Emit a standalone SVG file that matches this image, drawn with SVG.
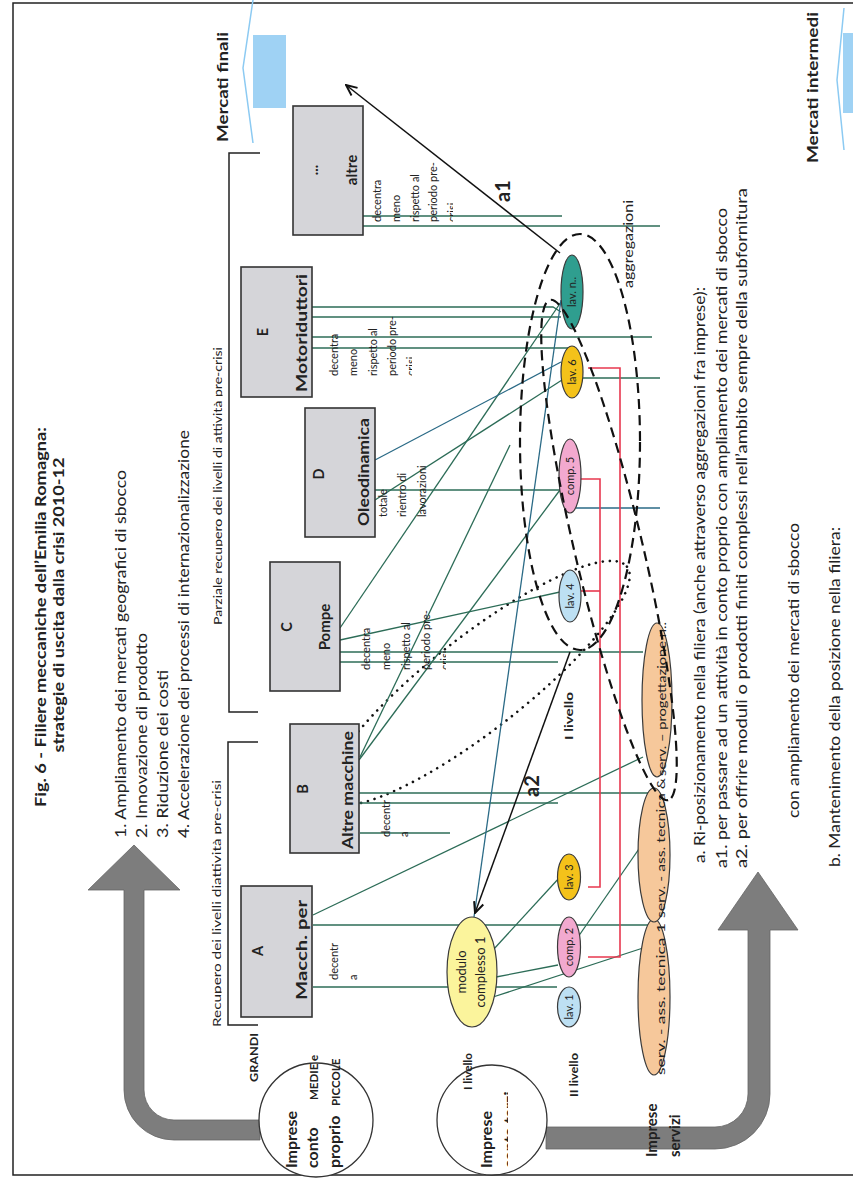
<svg xmlns="http://www.w3.org/2000/svg" width="853" height="1182" viewBox="0 0 853 1182">
<defs>
<style>
.t{font-family:Lato,"Liberation Sans","DejaVu Sans",sans-serif;fill:#222}
.b{font-weight:bold}
.f11{font-size:11px}
.f12{font-size:12px}
.f14{font-size:14.5px}
.f15{font-size:15px}
.f16{font-size:16px}
.box{fill:#d5d5d9;stroke:#333;stroke-width:1.6}
.ln{fill:none;stroke:#2c6c57;stroke-width:1.3}
.lb{fill:none;stroke:#2a6a86;stroke-width:1.3}
.red{fill:none;stroke:#e8384f;stroke-width:1.6}
.blk{fill:none;stroke:#111;stroke-width:1.5}
.dash{fill:none;stroke:#111;stroke-width:2.2;stroke-dasharray:10 6}
.dot{fill:none;stroke:#111;stroke-width:2.6;stroke-dasharray:0 7;stroke-linecap:round}
.nd{stroke:#3a3a3a;stroke-width:1.2}
.grey{fill:#7d7d7d;stroke:#666;stroke-width:0.8}
.frame{fill:none;stroke:#222;stroke-width:1.5}
</style>
<marker id="ah" viewBox="0 0 12 12" refX="11" refY="6" markerWidth="13" markerHeight="13" markerUnits="userSpaceOnUse" orient="auto">
<path d="M1,1.5 L11,6 L1,10.5" fill="none" stroke="#111" stroke-width="1.8"/>
</marker>
<clipPath id="cpRec"><rect x="0" y="0" width="221.5" height="1182"/></clipPath>
<clipPath id="cpPar"><rect x="0" y="0" width="222.5" height="1182"/></clipPath>
<clipPath id="cpAltre"><rect x="360" y="100" width="93" height="140"/></clipPath>
<clipPath id="cpE"><rect x="315" y="250" width="97" height="140"/></clipPath>
<clipPath id="cpC"><rect x="345" y="540" width="101" height="140"/></clipPath>
<clipPath id="cpTerzi"><rect x="430" y="1050" width="78" height="132"/></clipPath>
</defs>

<rect width="853" height="1182" fill="#fff"/>
<path class="frame" d="M853,3 H13 V1175 H853"/>

<!-- title and strategy list -->
<g id="title">
<text class="t b f16" x="46" y="617" text-anchor="middle" textLength="380" lengthAdjust="spacingAndGlyphs" transform="rotate(-90 46 617)">Fig. 6 - Filiere meccaniche dell’Emilia Romagna:</text>
<text class="t b f16" x="64" y="605" text-anchor="middle" textLength="295" lengthAdjust="spacingAndGlyphs" transform="rotate(-90 64 605)">strategie di uscita dalla crisi 2010-12</text>
</g>
<g id="strategies">
<text class="t f15" x="126" y="838" textLength="368" lengthAdjust="spacingAndGlyphs" transform="rotate(-90 126 838)">1. Ampliamento dei mercati geografici di  sbocco</text>
<text class="t f15" x="147" y="838" textLength="205" lengthAdjust="spacingAndGlyphs" transform="rotate(-90 147 838)">2. Innovazione di  prodotto</text>
<text class="t f15" x="168" y="838" textLength="168" lengthAdjust="spacingAndGlyphs" transform="rotate(-90 168 838)">3. Riduzione dei costi</text>
<text class="t f15" x="189" y="838" textLength="408" lengthAdjust="spacingAndGlyphs" transform="rotate(-90 189 838)">4. Accelerazione dei processi di  internazionalizzazione</text>
</g>

<!-- brackets with their captions -->
<g id="brackets">
<path class="frame" d="M258,742 H228 V1025 H258"/>
<path class="frame" d="M260,153 H229 V712 H258"/>
<g clip-path="url(#cpRec)"><text class="t f11" x="221" y="1027" textLength="247" lengthAdjust="spacingAndGlyphs" transform="rotate(-90 221 1027)">Recupero dei livelli diattività pre-crisi</text></g>
<g clip-path="url(#cpPar)"><text class="t f11" x="222" y="625" textLength="278" lengthAdjust="spacingAndGlyphs" transform="rotate(-90 222 625)">Parziale recupero dei livelli di attività pre-crisi</text></g>
</g>

<!-- market arrows -->
<g id="mercati-finali">
<rect x="253" y="35" width="33" height="73" fill="#9fd2f4"/>
<polyline points="253,0 243,68 253,143" fill="none" stroke="#8ccaf2" stroke-width="1.5"/>
<text class="t b f15" x="228" y="142" textLength="110" lengthAdjust="spacingAndGlyphs" transform="rotate(-90 228 142)">Mercati finali</text>
</g>
<g id="mercati-intermedi">
<rect x="843" y="33" width="12" height="80" fill="#9fd2f4"/>
<polyline points="844,8 837,80 844,150" fill="none" stroke="#8ccaf2" stroke-width="1.5"/>
<text class="t b f15" x="818" y="163" textLength="151" lengthAdjust="spacingAndGlyphs" transform="rotate(-90 818 163)">Mercati intermedi</text>
</g>

<!-- big grey flow arrows -->
<g id="flow-arrows">
<path class="grey" d="M260,1140 L174,1140 A50,50 0 0 1 124,1090 L124,890 L88,890 L134,845 L180,890 L144,890 L144,1090 A30,30 0 0 0 174,1120 L260,1120 Z"/>
<path class="grey" d="M546,1149 L715,1149 A55,55 0 0 0 770,1094 L770,930 L798,930 L758,872 L718,930 L748,930 L748,1094 A33,33 0 0 1 715,1127 L546,1127 Z"/>
</g>

<!-- dotted grouping -->
<ellipse class="dot" cx="478" cy="683" rx="189" ry="47" transform="rotate(-38 478 683)"/>

<!-- connectors -->
<g id="connectors">
<path class="ln" d="M313,915 L643,757"/>
<path class="ln" d="M313,925 L650,925"/>
<path class="ln" d="M313,987 L557,987"/>
<path class="ln" d="M359,760 L560,490"/>
<path class="ln" d="M359,793 L650,793"/>
<path class="ln" d="M359,803 L558,803"/>
<path class="ln" d="M360,833 L450,833"/>
<path class="ln" d="M360,757 L510,445"/>
<path class="ln" d="M340,652 L643,652"/>
<path class="ln" d="M340,662 L558,662"/>
<path class="ln" d="M340,640 L560,592"/>
<path class="ln" d="M340,628 L561,302"/>
<path class="lb" d="M375,460 L561,362"/>
<path class="ln" d="M375,500 L562,380"/>
<path class="ln" d="M375,490 L560,490"/>
<path class="ln" d="M312,307 L553,307 L561,312"/>
<path class="ln" d="M312,317 L561,317"/>
<path class="ln" d="M312,337 L652,337"/>
<path class="ln" d="M312,348 L575,348"/>
<path class="ln" d="M363,216 L562,216"/>
<path class="ln" d="M363,226 L660,226"/>
<path class="ln" d="M583,378 L660,378"/>
<path class="lb" d="M576,508 L660,508"/>
<path class="lb" d="M561,300 L474,917"/>
<path class="ln" d="M493,950 L560,877"/>
<path class="ln" d="M496,977 L558,965"/>
<path class="ln" d="M493,997 L643,948"/>
<path class="ln" d="M578,937 L650,833"/>
<path class="red" d="M580,479 H600 V887 H588"/>
<path class="red" d="M588,368 H620 V957 H588"/>
<path class="red" d="M581,591 H600"/>
<path class="blk" d="M560,253 L346,85" marker-end="url(#ah)"/>
<path class="blk" stroke-width="2.6" d="M570,652 L475,913" marker-end="url(#ah)"/>
</g>

<!-- large firms -->
<g id="box-altre">
<rect class="box" x="293" y="106" width="70" height="129"/>
<text class="t b f14" x="318" y="170" text-anchor="middle" transform="rotate(-90 318 170)">...</text>
<text class="t b f15" x="357" y="170" text-anchor="middle" transform="rotate(-90 357 170)">altre</text>
</g>
<g id="box-e">
<rect class="box" x="241" y="267" width="71" height="130"/>
<text class="t b f14" x="268" y="332" text-anchor="middle" transform="rotate(-90 268 332)">E</text>
<text class="t b f15" x="307" y="333" text-anchor="middle" textLength="118" lengthAdjust="spacingAndGlyphs" transform="rotate(-90 307 333)">Motoriduttori</text>
</g>
<g id="box-d">
<rect class="box" x="305" y="408" width="70" height="129"/>
<text class="t b f14" x="324" y="474" text-anchor="middle" transform="rotate(-90 324 474)">D</text>
<text class="t b f15" x="369" y="472" text-anchor="middle" textLength="108" lengthAdjust="spacingAndGlyphs" transform="rotate(-90 369 472)">Oleodinamica</text>
</g>
<g id="box-c">
<rect class="box" x="270" y="562" width="70" height="129"/>
<text class="t b f14" x="292" y="627" text-anchor="middle" transform="rotate(-90 292 627)">C</text>
<text class="t b f15" x="330" y="627" text-anchor="middle" transform="rotate(-90 330 627)">Pompe</text>
</g>
<g id="box-b">
<rect class="box" x="290" y="724" width="69" height="129"/>
<text class="t b f14" x="308" y="789" text-anchor="middle" transform="rotate(-90 308 789)">B</text>
<text class="t b f15" x="353" y="790" text-anchor="middle" textLength="118" lengthAdjust="spacingAndGlyphs" transform="rotate(-90 353 790)">Altre macchine</text>
</g>
<g id="box-a">
<rect class="box" x="241" y="886" width="71" height="131"/>
<text class="t b f14" x="263" y="951" text-anchor="middle" transform="rotate(-90 263 951)">A</text>
<text class="t b f15" x="307" y="950" text-anchor="middle" textLength="100" lengthAdjust="spacingAndGlyphs" transform="rotate(-90 307 950)">Macch. per</text>
</g>

<!-- decentralisation notes -->
<g id="note-altre" clip-path="url(#cpAltre)">
<text class="t f11" x="381" y="222" transform="rotate(-90 381 222)">decentra</text>
<text class="t f11" x="400" y="222" transform="rotate(-90 400 222)">meno</text>
<text class="t f11" x="419" y="222" transform="rotate(-90 419 222)">rispetto al</text>
<text class="t f11" x="437" y="222" transform="rotate(-90 437 222)">periodo pre-</text>
<text class="t f11" x="456" y="222" transform="rotate(-90 456 222)">crisi</text>
</g>
<g id="note-e" clip-path="url(#cpE)">
<text class="t f11" x="338" y="376" transform="rotate(-90 338 376)">decentra</text>
<text class="t f11" x="357" y="376" transform="rotate(-90 357 376)">meno</text>
<text class="t f11" x="377" y="376" transform="rotate(-90 377 376)">rispetto al</text>
<text class="t f11" x="396" y="376" transform="rotate(-90 396 376)">periodo pre-</text>
<text class="t f11" x="415" y="376" transform="rotate(-90 415 376)">crisi</text>
</g>
<g id="note-d">
<text class="t f11" x="387" y="517" transform="rotate(-90 387 517)">totale</text>
<text class="t f11" x="406" y="517" transform="rotate(-90 406 517)">rientro di</text>
<text class="t f11" x="426" y="517" transform="rotate(-90 426 517)">lavorazioni</text>
</g>
<g id="note-c" clip-path="url(#cpC)">
<text class="t f11" x="370" y="670" transform="rotate(-90 370 670)">decentra</text>
<text class="t f11" x="390" y="670" transform="rotate(-90 390 670)">meno</text>
<text class="t f11" x="410" y="670" transform="rotate(-90 410 670)">rispetto al</text>
<text class="t f11" x="430" y="670" transform="rotate(-90 430 670)">periodo pre-</text>
<text class="t f11" x="449" y="670" transform="rotate(-90 449 670)">crisi</text>
</g>
<g id="note-b">
<text class="t f11" x="390" y="837" transform="rotate(-90 390 837)">decentr</text>
<text class="t f11" x="408" y="837" transform="rotate(-90 408 837)">a</text>
</g>
<g id="note-a">
<text class="t f11" x="338" y="980" transform="rotate(-90 338 980)">decentr</text>
<text class="t f11" x="357" y="980" transform="rotate(-90 357 980)">a</text>
</g>

<!-- firm-type circles and row labels -->
<g id="imprese-conto-proprio">
<circle cx="316" cy="1120" r="57" fill="#fff" stroke="#333" stroke-width="1.3"/>
<text class="t b f16" x="297" y="1168" transform="rotate(-90 297 1168)">Imprese</text>
<text class="t b f16" x="318" y="1168" transform="rotate(-90 318 1168)">conto</text>
<text class="t b f16" x="340" y="1168" transform="rotate(-90 340 1168)">proprio</text>
<text class="t b" font-size="11.5" x="318" y="1100" transform="rotate(-90 318 1100)">MEDIE e</text>
<text class="t b" font-size="11.5" x="340" y="1106" transform="rotate(-90 340 1106)">PICCOLE</text>
</g>
<text id="lbl-grandi" class="t b f12" x="258" y="1082" textLength="49" lengthAdjust="spacingAndGlyphs" transform="rotate(-90 258 1082)">GRANDI</text>
<g id="imprese-conto-terzi">
<circle cx="492" cy="1120" r="55" fill="#fff" stroke="#333" stroke-width="1.3"/>
<text class="t b f16" x="492" y="1168" transform="rotate(-90 492 1168)">Imprese</text>
<g clip-path="url(#cpTerzi)"><text class="t b f16" x="515" y="1168" transform="rotate(-90 515 1168)">conto terzi</text></g>
</g>
<text id="lbl-livello-1" class="t b f12" x="472" y="1090" textLength="37" lengthAdjust="spacingAndGlyphs" transform="rotate(-90 472 1090)">I livello</text>
<text id="lbl-livello-2" class="t b f12" x="578" y="1097" textLength="44" lengthAdjust="spacingAndGlyphs" transform="rotate(-90 578 1097)">II livello</text>
<text id="lbl-livello-1b" class="t b f12" x="573" y="740" textLength="48" lengthAdjust="spacingAndGlyphs" transform="rotate(-90 573 740)">I livello</text>
<g id="imprese-servizi">
<text class="t b f15" x="657" y="1157" transform="rotate(-90 657 1157)">Imprese</text>
<text class="t b f15" x="680" y="1157" transform="rotate(-90 680 1157)">servizi</text>
</g>

<!-- supply-chain nodes -->
<g id="modulo-complesso-1">
<ellipse class="nd" cx="472" cy="972" rx="25" ry="55" fill="#fbf49c"/>
<text class="t" font-size="13" x="466" y="972" text-anchor="middle" transform="rotate(-90 466 972)">modulo</text>
<text class="t" font-size="13" x="485" y="972" text-anchor="middle" transform="rotate(-90 485 972)">complesso 1</text>
</g>
<g id="lav-1"><ellipse class="nd" cx="569" cy="1007" rx="11.5" ry="20" fill="#bde0f3"/>
<text class="t f11" x="573" y="1007" text-anchor="middle" transform="rotate(-90 573 1007)">lav. 1</text></g>
<g id="comp-2"><ellipse class="nd" cx="569" cy="947" rx="11.5" ry="30" fill="#f2a9cf"/>
<text class="t f11" x="573" y="947" text-anchor="middle" transform="rotate(-90 573 947)">comp. 2</text></g>
<g id="lav-3"><ellipse class="nd" cx="569" cy="877" rx="11.5" ry="23" fill="#f4c21a"/>
<text class="t f11" x="573" y="877" text-anchor="middle" transform="rotate(-90 573 877)">lav. 3</text></g>
<g id="lav-4"><ellipse class="nd" cx="570" cy="596" rx="11" ry="26" fill="#bde0f3"/>
<text class="t f11" x="574" y="596" text-anchor="middle" transform="rotate(-90 574 596)">lav. 4</text></g>
<g id="comp-5"><ellipse class="nd" cx="570" cy="476" rx="11" ry="37" fill="#f2a9cf"/>
<text class="t f11" x="574" y="476" text-anchor="middle" transform="rotate(-90 574 476)">comp. 5</text></g>
<g id="lav-6"><ellipse class="nd" cx="572" cy="372" rx="11" ry="26" fill="#f4c21a"/>
<text class="t f11" x="576" y="372" text-anchor="middle" transform="rotate(-90 576 372)">lav. 6</text></g>
<g id="lav-n"><ellipse class="nd" cx="572" cy="292" rx="11" ry="37" fill="#2f9e8f"/>
<text class="t f11" x="576" y="292" text-anchor="middle" transform="rotate(-90 576 292)">lav. n..</text></g>
<g id="serv-1"><ellipse class="nd" cx="654" cy="997" rx="16" ry="78" fill="#f6c89b"/>
<text class="t f12" x="665" y="1075" textLength="152" lengthAdjust="spacingAndGlyphs" transform="rotate(-90 665 1075)">serv. - ass. tecnica 1</text></g>
<g id="serv-2"><ellipse class="nd" cx="654" cy="855" rx="16" ry="67" fill="#f6c89b"/>
<text class="t f12" x="665" y="918" textLength="140" lengthAdjust="spacingAndGlyphs" transform="rotate(-90 665 918)">serv. - ass. tecnica &amp;</text></g>
<g id="serv-3"><ellipse class="nd" cx="657" cy="700" rx="15" ry="77" fill="#f6c89b"/>
<text class="t f12" x="666" y="776" textLength="154" lengthAdjust="spacingAndGlyphs" transform="rotate(-90 666 776)">serv. – progettazione n..</text></g>

<!-- dashed aggregation outlines -->
<g id="aggregazioni">
<ellipse class="dash" cx="580" cy="442" rx="60" ry="208"/>
<ellipse class="dash" cx="609" cy="550" rx="257" ry="34" transform="rotate(76.7 609 550)"/>
<text class="t" font-size="12.5" x="633" y="288" textLength="88" lengthAdjust="spacingAndGlyphs" transform="rotate(-90 633 288)">aggregazioni</text>
</g>

<!-- strategy arrow labels -->
<text id="lbl-a1" class="t b" font-size="20" x="510" y="191" text-anchor="middle" transform="rotate(-90 510 191)">a1</text>
<text id="lbl-a2" class="t b" font-size="20" x="539" y="786" text-anchor="middle" transform="rotate(-90 539 786)">a2</text>

<!-- legend of repositioning strategies -->
<g id="legend">
<text class="t f14" x="705" y="863" textLength="576" lengthAdjust="spacingAndGlyphs" transform="rotate(-90 705 863)">a. Ri-posizionamento nella filiera (anche attraverso aggregazioni fra  imprese):</text>
<text class="t f14" x="727" y="868" textLength="660" lengthAdjust="spacingAndGlyphs" transform="rotate(-90 727 868)">a1. per passare ad un attività in conto proprio con ampliamento dei mercati di sbocco</text>
<text class="t f14" x="747" y="868" textLength="680" lengthAdjust="spacingAndGlyphs" transform="rotate(-90 747 868)">a2. per offrire moduli o prodotti finiti complessi nell’ambito sempre della  subfornitura</text>
<text class="t f14" x="799" y="818" textLength="295" lengthAdjust="spacingAndGlyphs" transform="rotate(-90 799 818)">con ampliamento dei mercati di sbocco</text>
<text class="t f14" x="840" y="867" textLength="340" lengthAdjust="spacingAndGlyphs" transform="rotate(-90 840 867)">b. Mantenimento della posizione nella  filiera:</text>
</g>
</svg>
